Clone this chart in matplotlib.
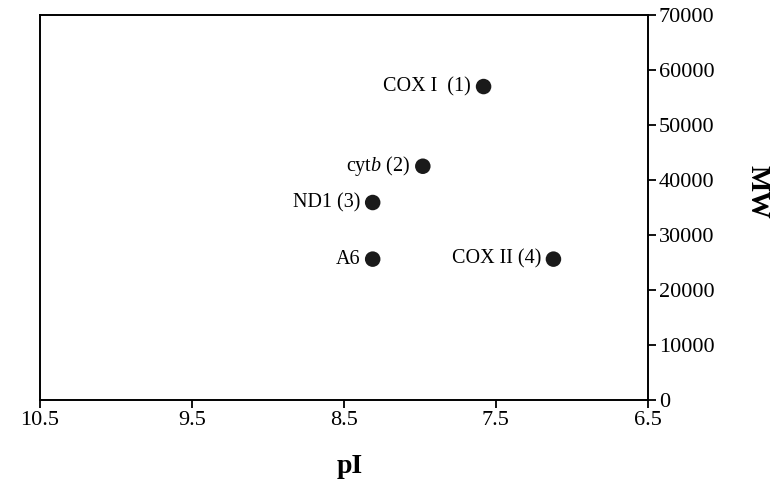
import matplotlib
matplotlib.use("Agg")
import matplotlib.pyplot as plt

plt.rcParams['font.family'] = ['Liberation Serif', 'DejaVu Serif']
plt.rcParams['mathtext.fontset'] = 'custom'
plt.rcParams['mathtext.rm'] = 'Liberation Serif'
plt.rcParams['mathtext.it'] = 'Liberation Serif:italic'

# data
genes = ["COX I  (1)", "cyt$\\mathit{b}$ (2)", "ND1 (3)", "A6", "COX II (4)"]
pI = [7.58, 7.98, 8.31, 8.31, 7.12]
mw = [57000, 42500, 35900, 25600, 25600]
xticks = [10.5, 9.5, 8.5, 7.5, 6.5]
yticks = [0, 10000, 20000, 30000, 40000, 50000, 60000, 70000]

fig = plt.figure(figsize=(7.77, 4.87), dpi=100)
ax = fig.add_axes([0.0515, 0.179, 0.782, 0.79])

ax.scatter(pI, mw, s=125, c='#1a1a1a', edgecolor='none', zorder=3)
for g, x, y in zip(genes, pI, mw):
    ax.annotate(g, (x, y), xytext=(-9, 0), textcoords='offset points',
                ha='right', va='center', fontsize=14.5)

ax.set_xlim(10.5, 6.5)
ax.set_ylim(0, 70000)
ax.set_xticks(xticks)
ax.set_xticklabels([str(t) for t in xticks])
ax.set_yticks(yticks)
ax.yaxis.tick_right()
ax.yaxis.set_label_position('right')
ax.tick_params(axis='both', direction='out', length=6, width=1.3, labelsize=16, pad=2)

for s in ax.spines.values():
    s.set_linewidth(1.4)

ax.set_xlabel('pI', fontsize=20, fontweight='bold')
ax.xaxis.set_label_coords(0.51, -0.14)
ax.set_ylabel('MW', fontsize=20, fontweight='bold', rotation=270, va='center')
ax.yaxis.set_label_coords(1.18, 0.54)

fig.savefig('out.png', dpi=100)
